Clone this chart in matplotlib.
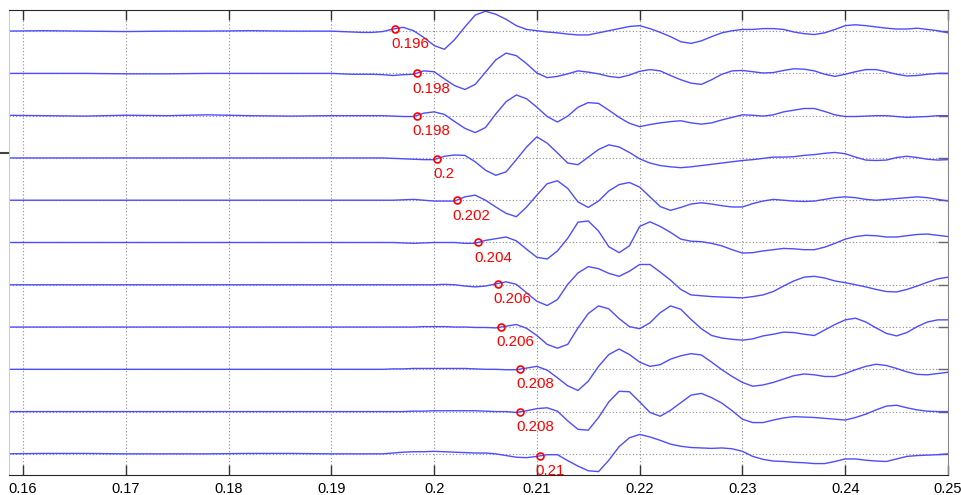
import numpy as np
import matplotlib
matplotlib.use("Agg")
import matplotlib.pyplot as plt
from matplotlib.lines import Line2D

plt.rcParams['font.family'] = ['Liberation Sans', 'DejaVu Sans']

# -----------------------------
# Sample times (s): coarse in the quiet part, 1 ms once the arrivals start
# -----------------------------
t_quiet = [0.158, 0.162, 0.166, 0.170, 0.174, 0.178, 0.182, 0.186, 0.190]
t_wave = [round(0.191 + 0.001 * k, 3) for k in range(60)]
t = np.array(t_quiet + t_wave)

# -----------------------------
# Trace amplitudes (in units of trace spacing), top trace first
# quiet(9) + 0.191..0.194 (4) + 0.195..0.250 (56)
# -----------------------------
tr01 = [0, 0.01, 0, -0.01, 0, 0, 0.01, 0, 0,
        -0.01, -0.02, -0.03, -0.03,
        -0.01, 0.05, 0.09, 0.01, -0.15, -0.34, -0.43, -0.20, 0.10, 0.38,
        0.47, 0.40, 0.28, 0.13, 0.04, 0.01, -0.02, -0.04, -0.07, -0.09,
        -0.09, -0.04, 0.01, 0.06, 0.11, 0.13, 0.06, -0.03,
        -0.13, -0.25, -0.29, -0.23, -0.13, -0.04, 0.01, 0.04, 0.04, 0.06,
        0.06, 0.04, -0.02, -0.06, -0.08, -0.04, 0.04, 0.13, 0.15, 0.13,
        0.10, 0.07, 0.05, 0.05, 0.07, 0.04, 0.01, -0.04]
tr02 = [0, 0, 0, -0.01, -0.01, 0, 0, 0, 0,
        -0.01, -0.02, -0.02, -0.02,
        -0.03, -0.05, -0.03, -0.02, 0.06, 0.04, -0.13, -0.29, -0.38, -0.26,
        0.03, 0.32, 0.48, 0.42, 0.23, 0.01, -0.10, -0.07, -0.01, 0.06,
        0.03, -0.01, -0.07, -0.10, -0.04, 0.05, 0.09, 0.06,
        -0.05, -0.15, -0.23, -0.26, -0.15, -0.02, 0.06, 0.07, 0.04, 0.01,
        0.02, 0.07, 0.11, 0.10, 0.06, -0.02, -0.07, -0.02, 0.04, 0.09,
        0.09, 0.04, -0.02, -0.06, -0.05, -0.02, 0, 0]
tr03 = [0.01, 0, -0.01, 0.01, 0, 0.02, 0, -0.01, 0,
        0, 0, 0, 0,
        0, -0.01, -0.02, -0.02, 0.06, 0.09, 0.03, -0.14, -0.30, -0.40,
        -0.28, 0.04, 0.33, 0.49, 0.40, 0.20, -0.02, -0.15, -0.01, 0.20,
        0.31, 0.29, 0.13, -0.04, -0.18, -0.26, -0.21, -0.17,
        -0.14, -0.12, -0.17, -0.20, -0.17, -0.10, -0.04, 0.02, 0.01, -0.01,
        0.02, 0.09, 0.13, 0.17, 0.17, 0.10, 0.02, -0.02, -0.02, -0.01,
        0, 0, -0.02, -0.04, -0.03, -0.02, 0, 0]
tr04 = [0, 0, 0, 0, 0, 0, 0, 0, 0,
        0, 0, 0, 0,
        0, -0.01, -0.02, -0.03, -0.04, -0.04, 0.04, 0.07, 0.06, -0.09,
        -0.29, -0.41, -0.33, -0.04, 0.26, 0.50, 0.35, 0.12, -0.12, -0.16,
        0.02, 0.20, 0.31, 0.26, 0.13, -0.02, -0.12, -0.18,
        -0.21, -0.23, -0.21, -0.18, -0.15, -0.12, -0.09, -0.06, -0.04, -0.01,
        0.02, 0.02, 0.03, 0.06, 0.08, 0.11, 0.13, 0.10, 0.02, -0.05,
        -0.06, -0.05, 0.01, 0.04, 0.01, -0.03, -0.05, -0.04]
tr05 = [0, 0, 0, 0, 0, 0, 0, 0, 0,
        0, 0, 0, 0,
        0, 0, 0.01, 0.02, 0, -0.02, -0.02, -0.02, 0.08, 0.12,
        0, -0.16, -0.31, -0.39, -0.16, 0.12, 0.39, 0.46, 0.28, -0.04,
        -0.17, -0.02, 0.22, 0.37, 0.42, 0.31, 0.08, -0.15,
        -0.24, -0.17, -0.09, -0.06, -0.09, -0.13, -0.16, -0.16, -0.08, -0.02,
        0.02, 0, -0.02, -0.03, -0.02, 0.02, 0.06, 0.08, 0.06, 0.02,
        0, 0.02, 0.04, 0.06, 0.08, 0.06, 0.02, -0.02]
tr06 = [0, 0, 0, 0, 0, 0, 0, 0, 0,
        0, 0, 0, 0,
        0, 0, -0.01, -0.02, -0.01, 0, 0, 0, -0.02, -0.02,
        0.05, 0.09, 0.13, 0.04, -0.16, -0.35, -0.39, -0.20, 0.10, 0.48,
        0.51, 0.27, -0.10, -0.24, -0.08, 0.38, 0.49, 0.38,
        0.24, 0.08, 0.03, 0.02, -0.02, -0.08, -0.17, -0.25, -0.24, -0.20,
        -0.17, -0.14, -0.15, -0.17, -0.17, -0.11, -0.02, 0.08, 0.14, 0.17,
        0.16, 0.13, 0.13, 0.16, 0.19, 0.20, 0.17, 0.14]
tr07 = [0, 0, 0, 0, 0, 0, 0, 0, 0,
        0, 0, 0, 0,
        0, 0, 0, 0, 0, 0, 0.01, 0, -0.03, -0.05,
        -0.03, 0.02, 0.07, 0.01, -0.19, -0.39, -0.49, -0.35, 0.01, 0.28,
        0.43, 0.38, 0.27, 0.20, 0.32, 0.48, 0.48, 0.30,
        0.11, -0.11, -0.24, -0.26, -0.28, -0.29, -0.30, -0.31, -0.28, -0.24,
        -0.16, -0.03, 0.09, 0.18, 0.20, 0.16, 0.09, 0.05, 0, -0.05,
        -0.11, -0.16, -0.17, -0.11, -0.03, 0.06, 0.14, 0.18]
tr08 = [0, 0, 0, 0, 0, 0, 0, 0, 0,
        0, 0, 0, 0,
        0, 0, 0, 0, 0.01, 0.01, 0.01, 0, 0, -0.01,
        -0.01, -0.02, 0.02, 0.06, -0.03, -0.20, -0.41, -0.50, -0.41, -0.02,
        0.32, 0.50, 0.43, 0.20, 0.01, -0.04, 0.10, 0.34,
        0.50, 0.42, 0.18, -0.04, -0.20, -0.26, -0.29, -0.31, -0.28, -0.21,
        -0.17, -0.12, -0.13, -0.17, -0.20, -0.07, 0.06, 0.17, 0.21, 0.12,
        -0.02, -0.15, -0.21, -0.13, 0.01, 0.12, 0.17, 0.17]
tr09 = [0, 0, 0, 0, 0, 0, 0, 0, 0,
        0, 0, 0, 0,
        0, 0.01, 0.01, 0.02, 0.02, 0.02, 0.02, 0.02, 0.02, 0.01,
        0, 0, -0.01, -0.01, 0.03, 0.07, -0.02, -0.20, -0.39, -0.50,
        -0.28, 0.07, 0.35, 0.48, 0.35, 0.17, 0.07, 0.11,
        0.24, 0.32, 0.37, 0.34, 0.17, -0.01, -0.17, -0.31, -0.40, -0.37,
        -0.31, -0.23, -0.15, -0.11, -0.13, -0.17, -0.17, -0.10, -0.01, 0.07,
        0.12, 0.09, 0.02, -0.06, -0.12, -0.13, -0.10, -0.07]
tr10 = [0, 0, 0, 0, 0, 0, 0, 0, 0,
        0, 0, 0, 0,
        0, 0, 0, 0.01, 0.01, 0.02, 0.02, 0.02, 0.02, 0.02,
        0.01, 0, 0, -0.02, 0.02, 0.07, 0.09, 0.01, -0.22, -0.42,
        -0.44, -0.14, 0.23, 0.48, 0.47, 0.23, -0.02, -0.11,
        0.03, 0.21, 0.39, 0.43, 0.33, 0.20, 0.02, -0.18, -0.26, -0.26,
        -0.20, -0.15, -0.12, -0.13, -0.14, -0.16, -0.18, -0.20, -0.14, -0.06,
        0.04, 0.13, 0.15, 0.09, 0.04, 0.01, 0, 0]
tr11 = [0, 0.01, 0.01, 0, 0, 0, 0.01, 0.01, 0,
        0, 0, 0, 0,
        0, 0.02, 0.04, 0.05, 0.05, 0.06, 0.05, 0.04, 0.03, 0.02,
        0.02, 0, -0.04, -0.08, -0.09, -0.06, -0.02, -0.02, -0.16, -0.29,
        -0.40, -0.42, -0.15, 0.17, 0.38, 0.46, 0.40, 0.32,
        0.23, 0.18, 0.15, 0.14, 0.13, 0.14, 0.12, 0.06, -0.06, -0.13,
        -0.17, -0.18, -0.20, -0.21, -0.23, -0.23, -0.18, -0.12, -0.12, -0.15,
        -0.17, -0.18, -0.12, -0.06, -0.04, -0.03, -0.02, 0]

traces = [tr01, tr02, tr03, tr04, tr05, tr06, tr07, tr08, tr09, tr10, tr11]

# Picked first-arrival times and their printed labels
pick_times = [0.1962, 0.1983, 0.1983, 0.2003, 0.2022, 0.2043,
              0.2062, 0.2065, 0.2084, 0.2084, 0.2103]
pick_labels = ["0.196", "0.198", "0.198", "0.2", "0.202", "0.204",
               "0.206", "0.206", "0.208", "0.208", "0.21"]

x_ticks = [0.16, 0.17, 0.18, 0.19, 0.20, 0.21, 0.22, 0.23, 0.24, 0.25]
x_tick_labels = ["0.16", "0.17", "0.18", "0.19", "0.2", "0.21",
                 "0.22", "0.23", "0.24", "0.25"]

# -----------------------------
# Figure
# -----------------------------
W, H = 961, 495
fig = plt.figure(figsize=(W / 100, H / 100), dpi=100)
ax = fig.add_axes([9 / W, 20 / H, 939 / W, 465 / H])

n = len(traces)
for i, tr in enumerate(traces):
    base = n - i
    y = base + np.asarray(tr, float)
    ax.plot(t, y, color=(0.3, 0.3, 1.0), lw=1.0, zorder=2)

    yp = base + np.interp(pick_times[i], t, tr)
    ax.plot(pick_times[i], yp, 'o', ms=5, mfc='none', mec='red', mew=1.2, zorder=3)
    ax.annotate(pick_labels[i], (pick_times[i], yp), xytext=(-3, -11),
                textcoords='offset points', ha='left', va='center',
                color='red', fontsize=10.8, zorder=4)

ax.set_xlim(0.15864, 0.25)
ax.set_ylim(0.5, n + 0.5)
ax.set_xticks(x_ticks)
ax.set_xticklabels(x_tick_labels)
ax.set_yticks(range(1, n + 1))
ax.set_yticklabels([])

ax.grid(True, color='#8c8c8c', linestyle=(0, (1, 2)), linewidth=0.8)
ax.tick_params(axis='x', direction='in', length=7, width=1, top=True,
               bottom=True, colors='#333333', labelsize=10.5, pad=5,
               labelcolor='black')
ax.tick_params(axis='y', direction='in', length=7, width=1, left=False,
               right=True, colors='#666666')

for side in ('top', 'bottom'):
    ax.spines[side].set_color('#262626')
ax.spines['right'].set_color('#8a8a8a')
ax.spines['left'].set_color('#cfcfcf')

# small stray tick mark at the cropped left edge
fig.add_artist(Line2D([0, 8 / W], [1 - 152.5 / H] * 2, color='#444444',
                      lw=1.5, transform=fig.transFigure))

fig.savefig("out.png", dpi=100)
